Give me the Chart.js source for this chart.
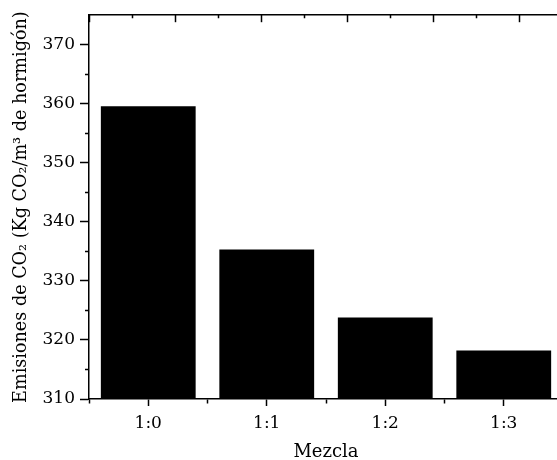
<!DOCTYPE html>
<html><head><meta charset="utf-8">
<script src="https://cdn.jsdelivr.net/npm/chart.js@4/dist/chart.umd.min.js"></script>
<style>html,body{margin:0;padding:0;overflow:hidden;background:#fff}#wrap{width:570px;height:460px;position:relative}</style>
</head><body><div id="wrap"><canvas id="c"></canvas></div>
<script>
const categories = ['1:0', '1:1', '1:2', '1:3'];
const emissions = [359.6, 335.3, 323.8, 318.2];
const yRange = [310, 375];
const xTitle = 'Mezcla';
const yTitle = 'Emisiones de CO₂ (Kg CO₂/m³ de hormigón)';

const FONT = {family: "'DejaVu Serif', serif", size: 17};
const TITLE_FONT = {family: "'DejaVu Serif', serif", size: 18};
const Y_TITLE_FONT = {family: "'DejaVu Serif', serif", size: 17.6};
const isMajor = (c, step) => c.tick && Math.abs(c.tick.value / step - Math.round(c.tick.value / step)) < 1e-6;

new Chart(document.getElementById('c'), {
  type: 'bar',
  data: {
    datasets: [{
      data: categories.map((c, i) => ({x: i, y: emissions[i]})),
      backgroundColor: '#000',
      borderWidth: 0,
      barPercentage: 1.6,
      categoryPercentage: 1
    }]
  },
  options: {
    responsive: true, maintainAspectRatio: false, animation: false,
    layout: {padding: {left: 0, right: 5, top: 0, bottom: 0}},
    plugins: {legend: {display: false}, tooltip: {enabled: false}},
    scales: {
      x: {
        type: 'linear', position: 'bottom', min: -0.5, max: 3.5, offset: false,
        grid: {display: true, offset: false, drawOnChartArea: false, drawTicks: true, tickLength: 7,
          tickColor: '#000', tickWidth: 1.5,
          tickBorderDash: c => isMajor(c, 1) ? [] : [4, 20]},
        border: {display: true, color: '#000', width: 1.5},
        ticks: {stepSize: 0.5, autoSkip: false, maxRotation: 0, color: '#000', font: FONT, padding: 7,
          callback: v => Number.isInteger(v) ? categories[v] : ''},
        title: {display: true, text: xTitle, color: '#000', font: TITLE_FONT, padding: {top: 0, bottom: -3}},
        afterFit: s => { s.height = 61; }
      },
      x2: {
        type: 'linear', position: 'top', min: 0, max: 5, display: true,
        grid: {display: true, drawOnChartArea: false, drawTicks: true, tickLength: -7,
          tickColor: '#000', tickWidth: 1.5,
          tickBorderDash: c => isMajor(c, 1) ? [] : [0, 4, 20]},
        border: {display: true, color: '#000', width: 1.5},
        ticks: {stepSize: 0.5, display: false, autoSkip: false},
        afterFit: s => { s.height = 15; }
      },
      y: {
        type: 'linear', position: 'left', min: yRange[0], max: yRange[1],
        grid: {display: true, drawOnChartArea: false, drawTicks: true, tickLength: 9, tickWidth: 1.5,
          tickColor: c => (c.tick && c.tick.value > 370) ? 'rgba(0,0,0,0)' : '#000',
          tickBorderDash: c => isMajor(c, 10) ? [] : [0, 5, 20]},
        border: {display: true, color: '#000', width: 1.5},
        ticks: {stepSize: 5, autoSkip: false, color: '#000', font: FONT, padding: 5,
          callback: v => (v % 10 === 0) ? String(v) : ''},
        title: {display: true, text: yTitle, color: '#000', font: Y_TITLE_FONT, padding: {top: 11, bottom: 0}},
        afterFit: s => { s.width = 89; }
      }
    }
  }
});
</script>
</body></html>
